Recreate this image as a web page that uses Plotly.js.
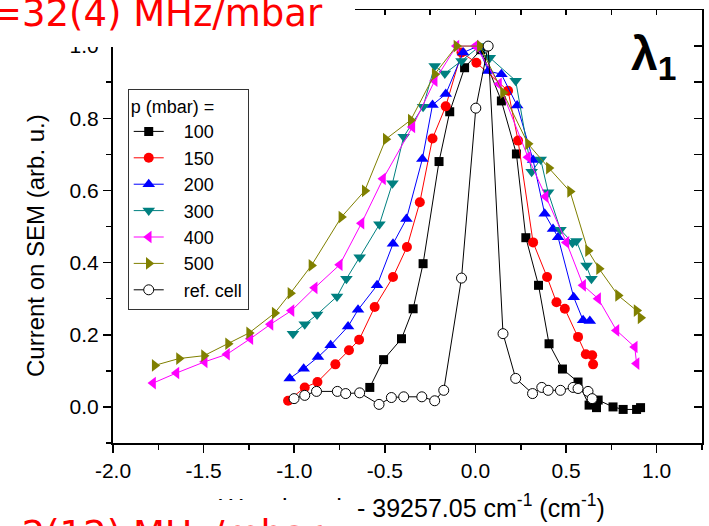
<!DOCTYPE html>
<html>
<head>
<meta charset="utf-8">
<script src="https://cdn.plot.ly/plotly-3.0.1.min.js"></script>
<style>html,body{margin:0;padding:0;background:#fff;}#chart{width:709px;height:526px;}</style>
</head>
<body>
<div id="chart"></div>
<script>
// ---- data ----
var seriesNames = ['100', '150', '200', '300', '400', '500', 'ref. cell'];

var x100 = [-0.583,-0.507,-0.408,-0.344,-0.289,-0.201,-0.142,-0.06,0.03,0.143,0.226,0.278,0.348,0.406,0.480,0.566,0.627,0.668,0.677,0.759,0.815,0.889,0.911];
var y100 = [0.054,0.131,0.189,0.272,0.397,0.680,0.818,0.94,0.99,0.848,0.701,0.469,0.337,0.175,0.105,0.069,0.005,-0.002,0.019,0.0,-0.007,-0.007,-0.002];

var x150 = [-1.034,-0.942,-0.872,-0.773,-0.698,-0.642,-0.556,-0.455,-0.378,-0.307,-0.237,-0.164,-0.077,0.005,0.180,0.235,0.318,0.395,0.447,0.493,0.566,0.609,0.644,0.649];
var y150 = [0.017,0.054,0.069,0.118,0.157,0.186,0.277,0.360,0.443,0.567,0.744,0.833,0.982,0.954,0.876,0.738,0.456,0.360,0.290,0.272,0.194,0.146,0.143,0.118];

var x200 = [-1.025,-0.948,-0.869,-0.799,-0.703,-0.648,-0.543,-0.455,-0.381,-0.293,-0.237,-0.164,-0.068,0.014,0.070,0.143,0.230,0.318,0.382,0.428,0.456,0.542,0.594,0.631];
var y200 = [0.079,0.106,0.138,0.171,0.223,0.269,0.337,0.452,0.521,0.687,0.837,0.867,0.982,1.0,0.931,0.922,0.835,0.684,0.535,0.493,0.470,0.304,0.240,0.238];

var x300 = [-1.007,-0.942,-0.874,-0.764,-0.712,-0.639,-0.530,-0.458,-0.396,-0.289,-0.225,-0.169,-0.077,0.024,0.079,0.222,0.310,0.360,0.401,0.469,0.535,0.557,0.613,0.640];
var y300 = [0.203,0.229,0.256,0.306,0.355,0.415,0.506,0.620,0.749,0.832,0.945,0.924,0.959,1.0,0.968,0.904,0.652,0.686,0.595,0.491,0.455,0.460,0.392,0.355];

var x400 = [-1.779,-1.650,-1.494,-1.371,-1.242,-1.131,-1.015,-0.887,-0.749,-0.629,-0.510,-0.348,-0.225,-0.105,0.0,0.130,0.290,0.387,0.502,0.594,0.677,0.778,0.879,0.889];
var y400 = [0.066,0.094,0.125,0.146,0.189,0.229,0.267,0.330,0.394,0.509,0.632,0.776,0.904,1.0,1.0,0.895,0.692,0.583,0.456,0.337,0.300,0.212,0.166,0.120];

var x500 = [-1.770,-1.636,-1.498,-1.365,-1.249,-1.108,-1.021,-0.905,-0.740,-0.611,-0.495,-0.357,-0.225,-0.105,0.024,0.152,0.290,0.405,0.522,0.621,0.682,0.787,0.889,0.911];
var y500 = [0.115,0.134,0.142,0.175,0.205,0.260,0.315,0.392,0.526,0.599,0.742,0.795,0.922,1.0,1.0,0.871,0.729,0.662,0.597,0.433,0.383,0.309,0.267,0.247];

var xRef = [-1.001,-0.942,-0.877,-0.762,-0.716,-0.639,-0.532,-0.464,-0.396,-0.296,-0.225,-0.175,-0.077,0.002,0.070,0.152,0.222,0.315,0.366,0.401,0.469,0.539,0.566,0.621,0.644];
var yRef = [0.023,0.032,0.043,0.043,0.037,0.039,0.007,0.026,0.028,0.028,0.017,0.046,0.357,0.828,1.0,0.203,0.079,0.037,0.054,0.046,0.046,0.054,0.051,0.043,0.023];

var xTickVals = [-2.0, -1.5, -1.0, -0.5, 0.0, 0.5, 1.0];
var xTickText = ['-2.0', '-1.5', '-1.0', '-0.5', '0.0', '0.5', '1.0'];
var yTickVals = [0.0, 0.2, 0.4, 0.6, 0.8, 1.0];
var yTickText = ['0.0', '0.2', '0.4', '0.6', '0.8', '1.0'];

// ---- styling ----
var FONT = 'Liberation Sans, Arial, sans-serif';
var NBSP = '\u00a0\u00a0\u00a0';
var styles = [
  {color: '#000000', symbol: 'square', size: 9},
  {color: '#FF0000', symbol: 'circle', size: 10},
  {color: '#0000FF', symbol: 'triangle-up', size: 11},
  {color: '#008080', symbol: 'triangle-down', size: 11},
  {color: '#FF00FF', symbol: 'triangle-left', size: 11},
  {color: '#808000', symbol: 'triangle-right', size: 11},
  {color: '#000000', symbol: 'circle-open', size: 10}
];
var xs = [x100, x150, x200, x300, x400, x500, xRef];
var ys = [y100, y150, y200, y300, y400, y500, yRef];

var traces = [];
for (var i = 0; i < xs.length; i++) {
  var st = styles[i];
  var isRef = (i === 6);
  traces.push({
    type: 'scatter', mode: 'lines+markers', name: NBSP + seriesNames[i],
    x: xs[i], y: ys[i],
    line: {color: st.color, width: 1},
    marker: isRef ? {symbol: 'circle', size: st.size, color: '#ffffff', line: {color: '#000000', width: 1}}
                  : {symbol: st.symbol, size: st.size, color: st.color, line: {width: 0}},
    cliponaxis: true
  });
}
// empty trace so the mirrored (top/right) axes exist
traces.push({type: 'scatter', x: [], y: [], xaxis: 'x2', yaxis: 'y2', showlegend: false, hoverinfo: 'skip'});

var layout = {
  width: 709, height: 526,
  margin: {l: 113, r: 7, t: 10, b: 83},
  paper_bgcolor: '#ffffff', plot_bgcolor: '#ffffff',
  font: {family: FONT, color: '#000000', size: 21},
  showlegend: true,
  legend: {
    x: 0.025, y: 0.818, xanchor: 'left', yanchor: 'top',
    bgcolor: '#ffffff', bordercolor: '#333333', borderwidth: 1,
    font: {family: FONT, size: 18, color: '#000'},
    title: {text: 'p (mbar) =', font: {family: FONT, size: 18, color: '#000'}},
    tracegroupgap: 0
  },
  xaxis: {
    range: [-2.0, 1.25], tickmode: 'array', tickvals: xTickVals, ticktext: xTickText,
    ticks: 'outside', ticklen: 8, tickwidth: 1.5, tickcolor: '#000',
    minor: {tickmode: 'linear', tick0: 0, dtick: 0.25, ticks: 'outside', ticklen: 5, tickwidth: 1.5, tickcolor: '#000', showgrid: false},
    showline: true, linewidth: 2, linecolor: '#000', zeroline: false, showgrid: false,
    tickfont: {family: FONT, size: 21, color: '#000'}
  },
  yaxis: {
    range: [-0.1, 1.1], tickmode: 'array', tickvals: yTickVals, ticktext: yTickText,
    ticks: 'outside', ticklen: 8, tickwidth: 1.5, tickcolor: '#000',
    minor: {tickmode: 'linear', tick0: 0, dtick: 0.1, ticks: 'outside', ticklen: 5, tickwidth: 1.5, tickcolor: '#000', showgrid: false},
    showline: true, linewidth: 2, linecolor: '#000', zeroline: false, showgrid: false,
    tickfont: {family: FONT, size: 21, color: '#000'}
  },
  xaxis2: {
    overlaying: 'x', side: 'top', anchor: 'y2', range: [-2.0, 1.25],
    tickmode: 'linear', tick0: 0, dtick: 0.25, ticks: 'inside', ticklen: 5, tickwidth: 1.5, tickcolor: '#000',
    showticklabels: false, showline: true, linewidth: 1.5, linecolor: '#000', zeroline: false, showgrid: false
  },
  yaxis2: {
    overlaying: 'y', side: 'right', anchor: 'x2', range: [-0.1, 1.1],
    tickmode: 'linear', tick0: 0, dtick: 0.1, ticks: 'inside', ticklen: 8, tickwidth: 1.5, tickcolor: '#000',
    showticklabels: false, showline: true, linewidth: 1.5, linecolor: '#000', zeroline: false, showgrid: false
  },
  annotations: [
    // y-axis title
    {text: 'Current on SEM (arb. u.)', xref: 'paper', yref: 'paper', x: -0.1307, y: 0.455,
     xanchor: 'center', yanchor: 'middle',
     textangle: -90, showarrow: false, font: {family: FONT, size: 24, color: '#000'}},
    // x-axis title
    {text: 'Wavelength - 39257.05 cm<sup>-1</sup> (cm<sup>-1</sup>)', xref: 'paper', yref: 'paper',
     x: 0.508, y: -0.146, xanchor: 'center', yanchor: 'middle',
     showarrow: false, font: {family: FONT, size: 25, color: '#000'}},
    // lambda label
    {text: '<b>λ</b><sub><b>1</b></sub>', xref: 'paper', yref: 'paper', x: 0.917, y: 0.891,
     xanchor: 'center', yanchor: 'middle',
     showarrow: false, font: {family: FONT, size: 48, color: '#000'}},
    // white cover boxes of overlapping slide text
    {text: ' ', xref: 'paper', yref: 'paper', x: -0.1919, y: 1.0231, xanchor: 'left', yanchor: 'top',
     width: 355, height: 47, bgcolor: '#ffffff', borderpad: 0, borderwidth: 0, showarrow: false},
    {text: ' ', xref: 'paper', yref: 'paper', x: -0.1919, y: -0.1315, xanchor: 'left', yanchor: 'top',
     width: 352, height: 30, bgcolor: '#ffffff', borderpad: 0, borderwidth: 0, showarrow: false},
    // red slide texts (partly outside the picture)
    {text: 'γ=32(4) MHz/mbar', xref: 'paper', yref: 'paper', x: 0.36, y: 0.993, xanchor: 'right', yanchor: 'middle',
     showarrow: false, font: {family: 'DejaVu Sans, sans-serif', size: 37, color: '#FF0000'}},
    {text: 'δ=2(12) MHz/mbar', xref: 'paper', yref: 'paper', x: 0.36, y: -0.2103, xanchor: 'right', yanchor: 'middle',
     showarrow: false, font: {family: 'DejaVu Sans, sans-serif', size: 37, color: '#FF0000'}}
  ]
};

Plotly.newPlot('chart', traces, layout, {displayModeBar: false, staticPlot: true});
</script>
</body>
</html>
